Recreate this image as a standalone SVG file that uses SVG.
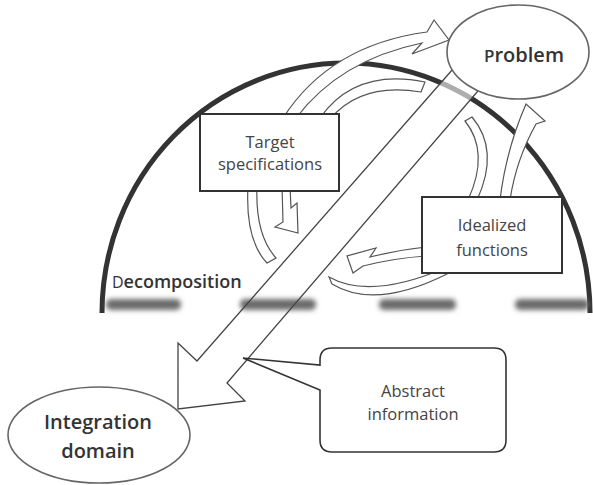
<svg xmlns="http://www.w3.org/2000/svg" width="593" height="485" viewBox="0 0 593 485">
<defs>
<filter id="blur" x="-20%" y="-100%" width="140%" height="300%"><feGaussianBlur stdDeviation="2.6"/></filter>
<style>
.band{fill:#fff;stroke:#555;stroke-width:1.2;stroke-linejoin:miter}
.box{fill:#fff;stroke:#333;stroke-width:2}
.ell{fill:#fff;stroke:#666;stroke-width:1.6}
.t{font-family:"Open Sans","Liberation Sans",sans-serif;fill:#444;font-size:16.5px;text-anchor:middle}
.tb{font-family:"Open Sans","Liberation Sans",sans-serif;fill:#333;font-size:20px;font-weight:600;text-anchor:middle}
.dash{fill:#6a6a6a;filter:url(#blur)}
</style>
</defs>
<rect width="593" height="485" fill="#fff"/>
<g id="domain-arc">
<path d="M102,313 A244,250 0 0 1 590,313" fill="none" stroke="#333" stroke-width="5"/>
</g>
<g id="connectors">
<path class="band" d="M283,118 Q330,45 427,32 L434,20 L449,40 L412,54 L422,43 Q340,60 296,118 Z"/>
<path class="band" d="M320,118 Q355,68 425,82 L421,92 Q362,82 331,118 Z"/>
<path class="band" d="M465,121 Q490,152 468,200 L477,200 Q500,150 472,117 Z"/>
<path class="band" d="M500,200 Q506,150 526,104 L545,121 L536,124 Q516,160 510,200 Z"/>
<path class="band" d="M248,186 Q245,240 267,263 L276,258 Q255,235 257,186 Z"/>
<path class="band" d="M282,186 L283,222 L275,227 L298,233 L297,203 L291,208 L290,186 Z"/>
<path class="band" d="M329,277 Q370,300 445,268 L447,274 Q375,310 332,284 Z"/>
<path class="band" d="M426,247 Q398,250 370,257 L376,248 L347,256 L353,273 L363,266 Q395,258 426,256 Z"/>
<path id="main-arrow-fill" d="M474,45 L197,361 L178,343 L178,409 L245,401 L227,383 L496,70 Z" fill="#fff" fill-opacity="0.6"/>
</g>
<g id="decomposition-line">
<rect class="dash" x="106" y="299" width="75" height="11" rx="5"/>
<rect class="dash" x="240" y="299" width="76" height="11" rx="5"/>
<rect class="dash" x="379" y="299" width="77" height="11" rx="5"/>
<rect class="dash" x="515" y="299" width="74" height="11" rx="5"/>
<text x="112" y="288" font-family="'Open Sans','Liberation Sans',sans-serif" font-size="18" font-weight="600" fill="#333"><tspan font-size="16" font-weight="400">D</tspan>ecomposition</text>
</g>
<g id="main-arrow">
<path d="M474,45 L197,361 L178,343 L178,409 L245,401 L227,383 L496,70 Z" fill="none" stroke="#444" stroke-width="1.3"/>
</g>
<g id="node-target">
<rect class="box" x="200" y="114" width="139" height="77"/>
<text class="t" x="270" y="148">Target</text>
<text class="t" x="270" y="170">specifications</text>
</g>
<g id="node-idealized">
<rect class="box" x="422" y="197" width="140" height="76"/>
<text class="t" x="492" y="231">Idealized</text>
<text class="t" x="492" y="256">functions</text>
</g>
<g id="node-problem">
<ellipse class="ell" cx="518" cy="52" rx="71" ry="47"/>
<text class="tb" x="524" y="62"><tspan font-size="17">P</tspan>roblem</text>
</g>
<g id="node-integration">
<ellipse class="ell" cx="99" cy="435" rx="91" ry="48"/>
<text class="tb" x="98" y="429">Integration</text>
<text class="tb" x="98" y="458">domain</text>
</g>
<g id="node-abstract">
<path d="M332,348 H494 Q506,348 506,360 V440 Q506,452 494,452 H332 Q320,452 320,440 V390 L243,358 L320,365 V360 Q320,348 332,348 Z" fill="#fff" stroke="#333" stroke-width="1.6"/>
<text class="t" x="413" y="397">Abstract</text>
<text class="t" x="413" y="420">information</text>
</g>
</svg>
